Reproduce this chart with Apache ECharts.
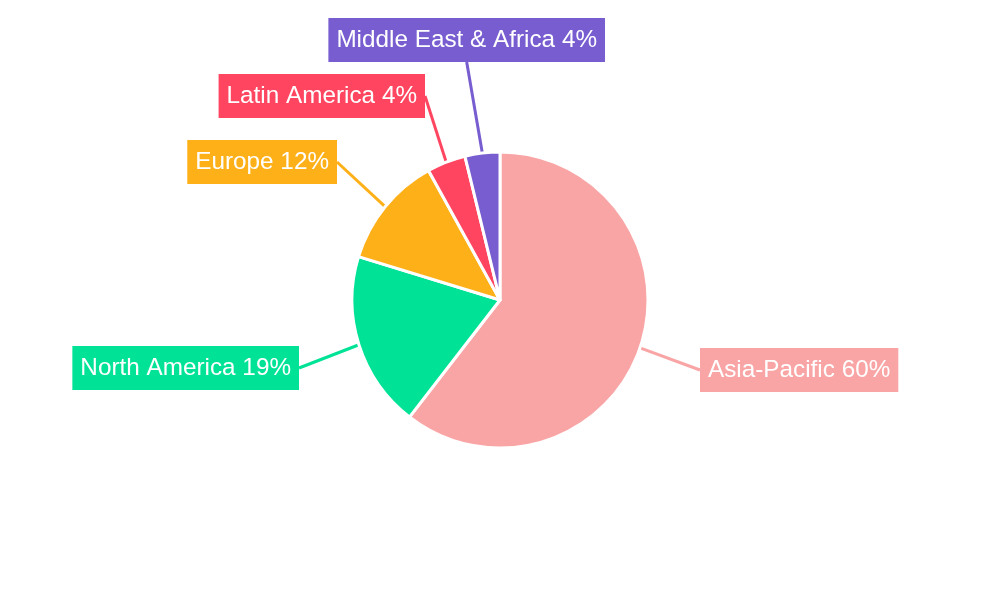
<!DOCTYPE html>
<html><head><meta charset="utf-8">
<script src="https://cdn.jsdelivr.net/npm/echarts@6/dist/echarts.min.js"></script>
<style>html,body{margin:0;padding:0;background:#fff}#c{width:1000px;height:600px}</style>
</head><body><div id="c"></div>
<script>
const categories = ["Asia-Pacific","North America","Europe","Latin America","Middle East & Africa"];
const values = [60.3,19.2,12.2,4.2,3.8];
const labels = ["60%","19%","12%","4%","4%"];
const colors = ["#f9a5a5","#00e396","#feb019","#ff4560","#775dd0"];
const anchors = [[700,370,'left'],[299,368,'right'],[337,162,'right'],[425,96,'right'],[605,40,'right']];
const chart = echarts.init(document.getElementById('c'));
chart.setOption({
  animation:false,
  series:[{
    type:'pie', center:[500,300], radius:148, startAngle:90, clockwise:true,
    data:categories.map((n,i)=>({name:n,value:values[i],
      itemStyle:{color:colors[i]},
      label:{backgroundColor:colors[i]},
      labelLine:{lineStyle:{color:colors[i]}}
    })),
    itemStyle:{borderColor:'#fff',borderWidth:3},
    label:{formatter:p=>p.name+' '+labels[p.dataIndex],color:'#fff',fontSize:24.3,
      fontFamily:'Liberation Sans, Arial, sans-serif',padding:[10,8,10,8]},
    labelLine:{length:20,length2:0,lineStyle:{width:3}},
    labelLayout:p=>{const a=anchors[p.dataIndex];return {x:a[0],y:a[1],align:a[2],verticalAlign:'middle',moveOverlap:false};}
  }]
});
</script></body></html>
